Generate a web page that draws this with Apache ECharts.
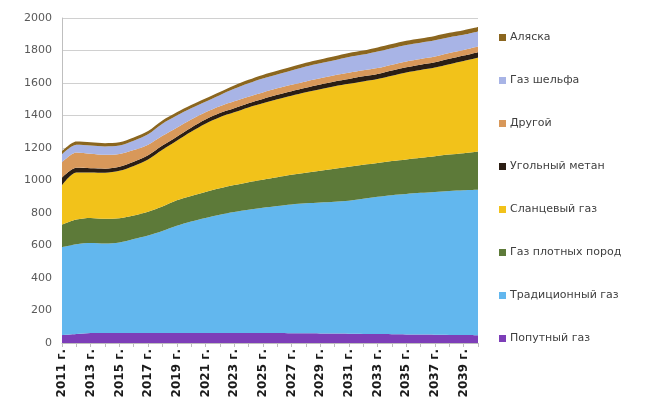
<!DOCTYPE html>
<html>
<head>
<meta charset="utf-8">
<script src="https://cdn.jsdelivr.net/npm/echarts@6/dist/echarts.min.js"></script>
<style>html,body{margin:0;padding:0;background:#fff;}#c{width:655px;height:409px;}</style>
</head>
<body>
<div id="c"></div>
<script>
const years = [];
for (let y = 2011; y <= 2040; y++) years.push(y + ' г.');

const yTicks = [0, 200, 400, 600, 800, 1000, 1200, 1400, 1600, 1800, 2000];

const associated = [48,55,62,62,62,62,62,62,62,62,62,62,62,62,62,61,60,60,59,58,57,56,55,54,53,52,51,50,49,48];
const conventional = [542,553,553,550,556,578,600,628,660,686,708,728,744,758,770,782,793,800,806,812,819,832,845,856,864,872,879,886,891,895];
const tight = [138,152,155,153,150,145,146,150,156,157,160,162,166,170,173,177,182,188,195,202,209,209,208,210,213,216,220,224,228,235];
const shale = [244,290,280,283,292,305,322,350,367,395,420,438,448,460,470,480,487,495,502,508,510,513,517,525,535,540,545,555,567,577];
const coalbed = [45,28,25,25,25,25,25,25,25,25,25,25,25,26,27,27,28,28,29,30,30,31,31,32,32,33,33,34,34,35];
const other = [95,95,90,85,78,72,65,60,55,50,45,42,42,40,40,40,39,39,38,38,38,37,36,36,36,35,35,35,34,34];
const offshore = [50,47,50,52,52,58,65,75,75,70,65,68,77,82,86,85,88,91,92,92,97,97,102,101,101,100,100,98,94,93];
const alaska = [18,20,20,20,20,20,20,20,20,20,20,20,21,22,22,23,23,24,24,25,25,25,25,26,26,26,27,27,28,28];

const seriesDefs = [
  { name: 'Попутный газ', data: associated, color: '#7d3eb8' },
  { name: 'Традиционный газ', data: conventional, color: '#62b7ee' },
  { name: 'Газ плотных пород', data: tight, color: '#5d7a39' },
  { name: 'Сланцевый газ', data: shale, color: '#f2c21a' },
  { name: 'Угольный метан', data: coalbed, color: '#2b1e14' },
  { name: 'Другой', data: other, color: '#d8985a' },
  { name: 'Газ шельфа', data: offshore, color: '#a8b4e6' },
  { name: 'Аляска', data: alaska, color: '#8b661f' }
];

const chart = echarts.init(document.getElementById('c'), null, { renderer: 'canvas' });
chart.setOption({
  animation: false,
  backgroundColor: '#ffffff',
  grid: { left: 62, right: 177, top: 18, bottom: 66, containLabel: false },
  legend: {
    orient: 'vertical',
    left: 494,
    top: 27,
    itemWidth: 7,
    itemHeight: 7,
    itemGap: 32,
    icon: 'rect',
    data: seriesDefs.map(s => s.name).reverse(),
    textStyle: { fontFamily: 'DejaVu Sans', fontSize: 11, color: '#404040', padding: [0, 0, 0, -1] }
  },
  xAxis: {
    type: 'category',
    boundaryGap: false,
    data: years,
    axisLine: { lineStyle: { color: '#bfbfbf' } },
    axisTick: { show: true, interval: 0, length: 4, lineStyle: { color: '#bfbfbf' } },
    axisLabel: {
      interval: 1,
      rotate: 90,
      fontFamily: 'DejaVu Sans',
      fontSize: 12,
      fontWeight: 'bold',
      color: '#1a1a1a',
      margin: 6
    }
  },
  yAxis: {
    type: 'value',
    min: yTicks[0],
    max: yTicks[yTicks.length - 1],
    interval: 200,
    axisLine: { show: true, lineStyle: { color: '#bfbfbf' } },
    axisTick: { show: false },
    splitLine: { lineStyle: { color: '#d0d0d0' } },
    axisLabel: { fontFamily: 'DejaVu Sans', fontSize: 11, color: '#595959', margin: 10, formatter: v => String(v) }
  },
  series: seriesDefs.map(s => ({
    name: s.name,
    type: 'line',
    stack: 'total',
    data: s.data,
    showSymbol: false,
    smooth: 0.3,
    lineStyle: { width: 0 },
    itemStyle: { color: s.color },
    areaStyle: { color: s.color, opacity: 1 }
  }))
});
</script>
</body>
</html>
